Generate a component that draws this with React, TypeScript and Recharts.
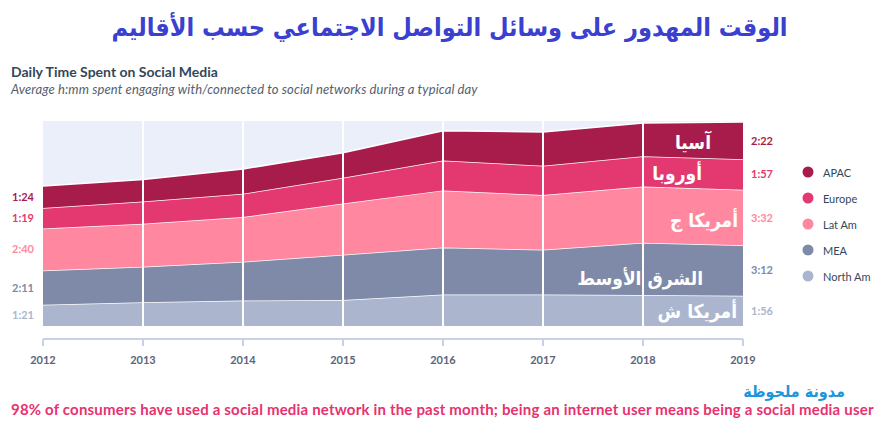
import {
  AreaChart,
  Area,
  XAxis,
  YAxis,
  CartesianGrid,
  ReferenceLine,
  ReferenceDot,
  Legend,
} from "recharts";

// minutes per day
const years = ["2012", "2013", "2014", "2015", "2016", "2017", "2018", "2019"];
const northAm = [81, 91, 97, 99, 120, 120, 118, 116];
const mea = [131, 135, 148, 173, 180, 171, 200, 192];
const latAm = [160, 165, 171, 196, 218, 209, 215, 212];
const europe = [79, 85, 89, 98, 114, 112, 115, 117];
const apac = [84, 84, 95, 96, 114, 129, 127, 142];

// bottom of the stack first
const series = [
  { key: "northAm", name: "North Am", values: northAm, color: "#abb6ce" },
  { key: "mea", name: "MEA", values: mea, color: "#7e8aa8" },
  { key: "latAm", name: "Lat Am", values: latAm, color: "#ff88a0" },
  { key: "europe", name: "Europe", values: europe, color: "#e43870" },
  { key: "apac", name: "APAC", values: apac, color: "#a81c4c" },
];

// arabic overlay labels: right edge and vertical centre in px
const arLabels = [
  { text: "آسيا", right: 711, y: 142 },
  { text: "أوروبا", right: 702, y: 173 },
  { text: "أمريكا ج", right: 738, y: 220 },
  { text: "الشرق الأوسط", right: 703, y: 278 },
  { text: "أمريكا ش", right: 737, y: 311 },
];

const rows = years.map((year, i) => {
  const row: any = { year };
  series.forEach((s) => (row[s.key] = s.values[i]));
  return row;
});

const fmt = (m: number) => `${Math.floor(m / 60)}:${String(m % 60).padStart(2, "0")}`;

// middle of a band in stacked units
const mid = (si: number, i: number) => {
  let base = 0;
  for (let k = 0; k < si; k++) base += series[k].values[i];
  return base + series[si].values[i] / 2;
};

const axisColor = "#c8d2e6";
const arabicFont = "'DejaVu Sans Condensed', 'DejaVu Sans'";

function LegendBox() {
  return (
    <div style={{ fontFamily: "Lato", fontSize: 11, color: "#33475b" }}>
      {[...series].reverse().map((s) => (
        <div key={s.key} style={{ display: "flex", alignItems: "center", height: 26 }}>
          <svg width={12} height={12} style={{ marginRight: 9 }}>
            <circle cx={6} cy={6} r={5.5} fill={s.color} />
          </svg>
          <span>{s.name}</span>
        </div>
      ))}
    </div>
  );
}

export default function App() {
  const last = years.length - 1;
  return (
    <div
      style={{
        position: "absolute",
        left: 0,
        top: 0,
        width: 889,
        height: 432,
        background: "#fff",
        overflow: "hidden",
      }}
    >
      <div
        dir="rtl"
        style={{
          position: "absolute",
          top: 10,
          left: 0,
          width: 899,
          textAlign: "center",
          fontFamily: arabicFont,
          fontStretch: "condensed",
          fontWeight: 700,
          fontSize: 25,
          color: "#3a40cf",
          lineHeight: "36px",
        }}
      >
        الوقت المهدور على وسائل التواصل الاجتماعي حسب الأقاليم
      </div>
      <div
        style={{
          position: "absolute",
          left: 11,
          top: 63,
          fontFamily: "Lato",
          fontWeight: 700,
          fontSize: 14,
          color: "#33475b",
          lineHeight: "18px",
        }}
      >
        Daily Time Spent on Social Media
      </div>
      <div
        style={{
          position: "absolute",
          left: 11,
          top: 81,
          fontFamily: "Lato",
          fontStyle: "italic",
          fontSize: 13,
          letterSpacing: 0.11,
          color: "#555e6e",
          lineHeight: "16px",
        }}
      >
        Average h:mm spent engaging with/connected to social networks during a typical day
      </div>

      <div style={{ position: "absolute", left: 0, top: 0 }}>
        <AreaChart
          width={889}
          height={432}
          data={rows}
          margin={{ top: 121, right: 146, left: 43, bottom: 66 }}
          style={{ fontFamily: "Lato" }}
        >
          <CartesianGrid fill="#ebeffa" horizontal={false} vertical={false} />
          <YAxis hide domain={[0, 783]} />
          <XAxis
            dataKey="year"
            height={40}
            tickSize={7}
            tickMargin={23}
            axisLine={{ stroke: axisColor, strokeWidth: 2, transform: "translate(0,13)" }}
            tickLine={{ stroke: axisColor, strokeWidth: 2, transform: "translate(0,13)" }}
            tick={{ fill: "#5a6478", fontSize: 11, fontWeight: 700 }}
          />
          {series.map((s) => (
            <Area
              key={s.key}
              type="linear"
              dataKey={s.key}
              name={s.name}
              stackId="1"
              stroke="#ffffff"
              strokeWidth={1.5}
              fill={s.color}
              fillOpacity={1}
              isAnimationActive={false}
            />
          ))}
          {years.slice(1, last).map((y) => (
            <ReferenceLine key={y} x={y} stroke="#ffffff" strokeWidth={2} />
          ))}
          {series.map((s, si) => (
            <ReferenceDot
              key={"l" + s.key}
              x={years[0]}
              y={mid(si, 0)}
              r={0}
              fill="none"
              stroke="none"
              label={{
                value: fmt(s.values[0]),
                position: "left",
                offset: 9,
                fill: s.color,
                fontSize: 11,
                fontWeight: 700,
              }}
            />
          ))}
          {series.map((s, si) => (
            <ReferenceDot
              key={"r" + s.key}
              x={years[last]}
              y={mid(si, last)}
              r={0}
              fill="none"
              stroke="none"
              label={{
                value: fmt(s.values[last]),
                position: "right",
                offset: 8,
                fill: s.color,
                fontSize: 11,
                fontWeight: 700,
              }}
            />
          ))}
          <Legend
            layout="vertical"
            align="center"
            verticalAlign="middle"
            wrapperStyle={{ left: 802, top: 159, width: 90 }}
            content={() => <LegendBox />}
          />
        </AreaChart>
      </div>

      {arLabels.map((l) => (
        <div
          key={l.text}
          dir="rtl"
          style={{
            position: "absolute",
            right: 889 - l.right,
            top: l.y - 13,
            fontFamily: arabicFont,
            fontStretch: "condensed",
            fontWeight: 700,
            fontSize: 19,
            lineHeight: "26px",
            color: "#fff",
            whiteSpace: "nowrap",
          }}
        >
          {l.text}
        </div>
      ))}

      <div
        dir="rtl"
        style={{
          position: "absolute",
          right: 889 - 845,
          top: 381,
          fontFamily: arabicFont,
          fontStretch: "condensed",
          fontWeight: 700,
          fontSize: 16,
          lineHeight: "22px",
          color: "#1e96dc",
        }}
      >
        مدونة ملحوظة
      </div>
      <div
        style={{
          position: "absolute",
          left: 11,
          top: 400,
          fontFamily: "Lato",
          fontWeight: 700,
          fontSize: 15,
          letterSpacing: 0.19,
          lineHeight: "18px",
          color: "#e6326e",
          whiteSpace: "nowrap",
        }}
      >
        98% of consumers have used a social media network in the past month; being an internet user means being a social media user
      </div>
    </div>
  );
}
